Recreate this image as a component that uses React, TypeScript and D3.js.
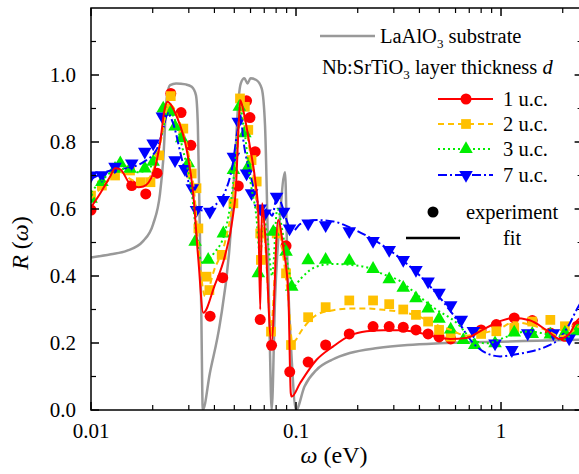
import React, { useRef, useEffect } from 'react';
import * as d3 from 'd3';

type Pt = [number, number];

// LaAlO3 substrate (fit only)
const substrate: Pt[] = [
  [0.01, 0.455], [0.0125, 0.465], [0.0149, 0.475], [0.018, 0.505], [0.0201, 0.555], [0.0217, 0.645],
  [0.0225, 0.745], [0.0234, 0.93], [0.0243, 0.97], [0.026, 0.975], [0.029, 0.972], [0.031, 0.965],
  [0.0325, 0.94], [0.0332, 0.85], [0.0338, 0.6], [0.0345, 0.3], [0.0351, 0.0], [0.038, 0.11],
  [0.0426, 0.26], [0.0476, 0.5], [0.0505, 0.75], [0.0525, 0.93], [0.0538, 0.975], [0.056, 0.99],
  [0.058, 0.975], [0.06, 0.99], [0.064, 0.985], [0.068, 0.96], [0.0706, 0.85], [0.0729, 0.5],
  [0.0754, 0.05], [0.0761, 0.0], [0.079, 0.33], [0.0836, 0.58], [0.0884, 0.71], [0.0907, 0.45],
  [0.0953, 0.15], [0.1, 0.0], [0.11, 0.07], [0.126, 0.12], [0.15, 0.15], [0.183, 0.17], [0.25, 0.185],
  [0.35, 0.194], [0.5, 0.199], [0.7, 0.202], [1, 0.204], [1.5, 0.207], [2.5, 0.21],
];

// fits
const fit1: Pt[] = [
  [0.01, 0.605], [0.0111, 0.647], [0.0124, 0.697], [0.0131, 0.722], [0.0139, 0.718], [0.0155, 0.675],
  [0.017, 0.665], [0.018, 0.667], [0.0201, 0.706], [0.0217, 0.796], [0.0229, 0.9], [0.0236, 0.92],
  [0.0262, 0.876], [0.0293, 0.776], [0.0315, 0.647], [0.0334, 0.448], [0.0353, 0.29], [0.04, 0.37],
  [0.045, 0.46], [0.049, 0.57], [0.051, 0.67], [0.0525, 0.85], [0.0535, 0.925], [0.0555, 0.89],
  [0.0596, 0.786], [0.0632, 0.687], [0.0655, 0.587], [0.0669, 0.3], [0.0683, 0.617], [0.0706, 0.53],
  [0.0759, 0.2], [0.0818, 0.567], [0.0866, 0.487], [0.0917, 0.35], [0.0943, 0.05], [0.0953, 0.04],
  [0.1046, 0.08], [0.126, 0.15], [0.152, 0.19], [0.183, 0.222], [0.221, 0.235], [0.267, 0.238],
  [0.322, 0.238], [0.388, 0.232], [0.468, 0.22], [0.564, 0.212], [0.68, 0.215], [0.79, 0.235],
  [0.99, 0.265], [1.15, 0.275], [1.38, 0.268], [1.67, 0.238], [1.94, 0.212], [2.17, 0.23],
  [2.34, 0.265], [2.5, 0.28],
];

const fit2: Pt[] = [
  [0.01, 0.63], [0.0115, 0.67], [0.013, 0.7], [0.014, 0.71], [0.0155, 0.69], [0.017, 0.68],
  [0.019, 0.69], [0.0205, 0.73], [0.022, 0.81], [0.0235, 0.9], [0.0245, 0.91], [0.027, 0.86],
  [0.03, 0.76], [0.032, 0.64], [0.0335, 0.48], [0.035, 0.37], [0.036, 0.34], [0.04, 0.42],
  [0.045, 0.5], [0.049, 0.62], [0.0515, 0.75], [0.0535, 0.92], [0.0555, 0.88], [0.06, 0.76],
  [0.0635, 0.65], [0.0655, 0.55], [0.0669, 0.38], [0.0683, 0.57], [0.0706, 0.5], [0.0755, 0.25],
  [0.0818, 0.55], [0.0866, 0.46], [0.0917, 0.33], [0.096, 0.2], [0.1, 0.21], [0.1046, 0.23],
  [0.126, 0.284], [0.152, 0.298], [0.183, 0.303], [0.221, 0.303], [0.267, 0.299], [0.322, 0.293],
  [0.388, 0.282], [0.468, 0.258], [0.564, 0.24], [0.68, 0.222], [0.79, 0.228], [0.99, 0.244],
  [1.15, 0.262], [1.38, 0.255], [1.67, 0.238], [1.94, 0.22], [2.17, 0.23], [2.5, 0.26],
];

const fit3: Pt[] = [
  [0.01, 0.65], [0.0115, 0.69], [0.013, 0.715], [0.015, 0.72], [0.017, 0.71], [0.019, 0.72],
  [0.021, 0.76], [0.0225, 0.84], [0.0238, 0.9], [0.0255, 0.87], [0.028, 0.78], [0.031, 0.65],
  [0.033, 0.5], [0.035, 0.44], [0.04, 0.47], [0.045, 0.53], [0.049, 0.66], [0.052, 0.82],
  [0.0535, 0.9], [0.0555, 0.85], [0.06, 0.68], [0.064, 0.58], [0.067, 0.45], [0.069, 0.58],
  [0.073, 0.5], [0.0765, 0.4], [0.081, 0.6], [0.0866, 0.52], [0.092, 0.42], [0.098, 0.37],
  [0.1046, 0.39], [0.126, 0.428], [0.152, 0.436], [0.183, 0.433], [0.221, 0.426], [0.267, 0.405],
  [0.322, 0.385], [0.388, 0.345], [0.47, 0.305], [0.608, 0.26], [0.733, 0.209], [0.852, 0.199],
  [1.07, 0.219], [1.33, 0.234], [1.7, 0.225], [2.0, 0.21], [2.3, 0.24], [2.5, 0.27],
];

const fit7: Pt[] = [
  [0.01, 0.69], [0.012, 0.712], [0.0135, 0.72], [0.015, 0.722], [0.018, 0.74], [0.021, 0.78],
  [0.0225, 0.84], [0.0237, 0.885], [0.025, 0.86], [0.028, 0.74], [0.031, 0.65], [0.033, 0.6],
  [0.036, 0.595], [0.04, 0.61], [0.045, 0.65], [0.049, 0.73], [0.052, 0.84], [0.0535, 0.88],
  [0.0555, 0.8], [0.06, 0.7], [0.065, 0.62], [0.0685, 0.58], [0.072, 0.6], [0.0765, 0.58],
  [0.081, 0.64], [0.0866, 0.6], [0.092, 0.55], [0.097, 0.535], [0.1046, 0.555], [0.126, 0.567],
  [0.152, 0.563], [0.183, 0.545], [0.221, 0.52], [0.267, 0.49], [0.322, 0.453], [0.388, 0.41],
  [0.468, 0.358], [0.608, 0.27], [0.733, 0.199], [0.852, 0.169], [0.99, 0.16], [1.15, 0.165],
  [1.38, 0.174], [1.67, 0.19], [1.94, 0.215], [2.17, 0.26], [2.34, 0.3], [2.5, 0.33],
];

// experiments
const exp1: Pt[] = [
  [0.01, 0.597], [0.0158, 0.67], [0.0185, 0.645], [0.021, 0.707], [0.0245, 0.945], [0.0275, 0.888],
  [0.0307, 0.79], [0.0381, 0.28], [0.0439, 0.395], [0.0523, 0.669], [0.0574, 0.923], [0.0596, 0.873],
  [0.0632, 0.771], [0.0669, 0.27], [0.076, 0.193], [0.0894, 0.49], [0.0932, 0.114], [0.1146, 0.143],
  [0.1395, 0.194], [0.1819, 0.227], [0.2376, 0.249], [0.2848, 0.249], [0.3335, 0.247], [0.3847, 0.239],
  [0.4408, 0.227], [0.4986, 0.218], [0.5683, 0.212], [0.7995, 0.239], [0.9487, 0.255], [1.16, 0.275],
  [1.42, 0.267], [1.74, 0.23], [2.05, 0.22], [2.35, 0.25],
];

const exp2: Pt[] = [
  [0.01, 0.64], [0.0113, 0.67], [0.0131, 0.7], [0.0155, 0.715], [0.0175, 0.68], [0.0195, 0.68],
  [0.0215, 0.76], [0.0235, 0.9], [0.0245, 0.937], [0.0282, 0.84], [0.031, 0.706], [0.0327, 0.662],
  [0.0334, 0.542], [0.0366, 0.398], [0.0378, 0.358], [0.0434, 0.463], [0.0495, 0.617], [0.0533, 0.93],
  [0.0563, 0.905], [0.0585, 0.836], [0.0607, 0.746], [0.0643, 0.682], [0.0669, 0.527], [0.0674, 0.448],
  [0.0755, 0.234], [0.0805, 0.527], [0.0894, 0.408], [0.0945, 0.194], [0.1146, 0.277], [0.1395, 0.307],
  [0.1819, 0.327], [0.2376, 0.327], [0.2848, 0.316], [0.3335, 0.3], [0.3847, 0.284], [0.4408, 0.264],
  [0.4986, 0.239], [0.5683, 0.219], [0.7995, 0.227], [0.9487, 0.235], [1.16, 0.245], [1.42, 0.264],
  [1.74, 0.269], [2.05, 0.25], [2.35, 0.24],
];

const exp3: Pt[] = [
  [0.01, 0.63], [0.0113, 0.68], [0.0131, 0.72], [0.0139, 0.736], [0.0155, 0.72], [0.0183, 0.721],
  [0.0201, 0.741], [0.0225, 0.9], [0.0245, 0.89], [0.0257, 0.846], [0.0277, 0.811], [0.0298, 0.736],
  [0.0322, 0.502], [0.0373, 0.448], [0.0442, 0.527], [0.0495, 0.716], [0.0529, 0.905], [0.0563, 0.826],
  [0.0585, 0.726], [0.0655, 0.408], [0.0775, 0.532], [0.0894, 0.472], [0.0953, 0.368], [0.1146, 0.447],
  [0.1395, 0.448], [0.1819, 0.445], [0.2376, 0.421], [0.2848, 0.39], [0.3335, 0.365], [0.3847, 0.333],
  [0.4408, 0.303], [0.4986, 0.272], [0.5683, 0.24], [0.655, 0.209], [0.744, 0.194], [0.935, 0.199],
  [1.16, 0.231], [1.42, 0.227], [1.74, 0.225], [2.05, 0.23], [2.35, 0.235],
];

const exp7: Pt[] = [
  [0.01, 0.7], [0.0113, 0.701], [0.0131, 0.726], [0.0158, 0.736], [0.0183, 0.771], [0.0201, 0.796],
  [0.0223, 0.876], [0.0257, 0.746], [0.0287, 0.72], [0.0312, 0.662], [0.0327, 0.597], [0.038, 0.592],
  [0.0442, 0.627], [0.0495, 0.756], [0.0523, 0.861], [0.0574, 0.706], [0.0607, 0.647], [0.0669, 0.602],
  [0.0706, 0.587], [0.0804, 0.637], [0.087, 0.592], [0.093, 0.542], [0.1146, 0.557], [0.1395, 0.552],
  [0.1819, 0.534], [0.2376, 0.505], [0.2848, 0.478], [0.3335, 0.448], [0.3847, 0.418], [0.4408, 0.384],
  [0.4986, 0.35], [0.5683, 0.313], [0.64, 0.27], [0.733, 0.236], [0.935, 0.199], [1.13, 0.179],
  [1.35, 0.229], [1.8, 0.229], [2.15, 0.214],
];

const seriesNames = ['1 u.c.', '2 u.c.', '3 u.c.', '7 u.c.'];
const xTickValues = [0.01, 0.1, 1];
const xTickLabels = ['0.01', '0.1', '1'];
const yTickValues = [0, 0.2, 0.4, 0.6, 0.8, 1.0];
const yTickLabels = ['0.0', '0.2', '0.4', '0.6', '0.8', '1.0'];

const W = 579;
const H = 474;
const SERIF = "'Liberation Serif', Tinos, 'Times New Roman', serif";

const series = [
  { name: seriesNames[0], fit: fit1, exp: exp1, color: '#ff0000', dash: '', symbol: d3.symbolCircle, size: 95, rot: 0 },
  { name: seriesNames[1], fit: fit2, exp: exp2, color: '#ffc000', dash: '6 4', symbol: d3.symbolSquare, size: 95, rot: 0 },
  { name: seriesNames[2], fit: fit3, exp: exp3, color: '#00ee00', dash: '2 3', symbol: d3.symbolTriangle, size: 80, rot: 0 },
  { name: seriesNames[3], fit: fit7, exp: exp7, color: '#0000ff', dash: '9 3 2 3', symbol: d3.symbolTriangle, size: 80, rot: 180 },
];

export default function App() {
  const svgRef = useRef<SVGSVGElement>(null);

  useEffect(() => {
    // force the serif face on every label
    d3.select(svgRef.current).selectAll('text')
      .each(function () {
        (this as SVGTextElement).style.setProperty('font-family', SERIF, 'important');
      });
  }, []);

  const x = d3.scaleLog().domain([0.01, 2.5]).range([91, 582.6]);
  const y = d3.scaleLinear().domain([0, 1.2]).range([410, 8]);
  const [x0, x1] = x.range();
  const [y0, y1] = y.range();

  const line = d3.line<Pt>()
    .x(d => x(d[0]))
    .y(d => y(d[1]))
    .curve(d3.curveMonotoneX);

  // minor x ticks: 2..9 per decade
  const xMinor: number[] = [];
  [0.01, 0.1, 1].forEach(dec => {
    for (let k = 2; k <= 9; k++) {
      const v = dec * k;
      if (v <= 2.5) xMinor.push(v);
    }
  });
  const yMinor = d3.range(1, 12, 2).map(i => i / 10);

  const legendRows = [99, 124, 149, 175];

  return (
    <svg ref={svgRef} width={W} height={H} fontFamily={SERIF}
      style={{ position: 'absolute', left: 0, top: 0 }}>
      <defs>
        <clipPath id="plot">
          <rect x={x0} y={y1} width={x1 - x0} height={y0 - y1} />
        </clipPath>
      </defs>

      <g clipPath="url(#plot)">
        <path d={line(substrate) || ''} fill="none" stroke="#999999" strokeWidth={2.5} />
        {series.map(s => (
          <g key={'m' + s.name}>
            {s.exp.map((d, i) => (
              <path key={i}
                d={d3.symbol().type(s.symbol).size(s.size)() || ''}
                transform={`translate(${x(d[0])},${y(d[1])}) rotate(${s.rot})`}
                fill={s.color} />
            ))}
          </g>
        ))}
        {series.slice().reverse().map(s => (
          <path key={'f' + s.name} d={line(s.fit) || ''} fill="none" stroke={s.color}
            strokeWidth={2} strokeDasharray={s.dash || undefined} />
        ))}
      </g>

      {/* frame */}
      <rect x={x0} y={y1} width={x1 - x0} height={y0 - y1} fill="none" stroke="#000" strokeWidth={1.5} />

      {/* x ticks */}
      {xTickValues.map(v => (
        <g key={'xt' + v}>
          <line x1={x(v)} x2={x(v)} y1={y0} y2={y0 - 8} stroke="#000" strokeWidth={1.5} />
          <line x1={x(v)} x2={x(v)} y1={y1} y2={y1 + 8} stroke="#000" strokeWidth={1.5} />
        </g>
      ))}
      {xMinor.map(v => (
        <g key={'xm' + v}>
          <line x1={x(v)} x2={x(v)} y1={y0} y2={y0 - 5} stroke="#000" strokeWidth={1.2} />
          <line x1={x(v)} x2={x(v)} y1={y1} y2={y1 + 5} stroke="#000" strokeWidth={1.2} />
        </g>
      ))}

      {/* y ticks */}
      {yTickValues.map(v => (
        <g key={'yt' + v}>
          <line x1={x0} x2={x0 + 8} y1={y(v)} y2={y(v)} stroke="#000" strokeWidth={1.5} />
          <line x1={x1} x2={x1 - 8} y1={y(v)} y2={y(v)} stroke="#000" strokeWidth={1.5} />
        </g>
      ))}
      {yMinor.map(v => (
        <g key={'ym' + v}>
          <line x1={x0} x2={x0 + 5} y1={y(v)} y2={y(v)} stroke="#000" strokeWidth={1.2} />
          <line x1={x1} x2={x1 - 5} y1={y(v)} y2={y(v)} stroke="#000" strokeWidth={1.2} />
        </g>
      ))}

      {xTickValues.map((v, i) => (
        <text key={'xl' + v} x={x(v)} y={438} textAnchor="middle" fontSize={21}>{xTickLabels[i]}</text>
      ))}
      {yTickValues.map((v, i) => (
        <text key={'yl' + v} x={76} y={y(v) + 7} textAnchor="end" fontSize={21}>{yTickLabels[i]}</text>
      ))}

      {/* axis titles */}
      <text x={334} y={463} textAnchor="middle" fontSize={24}>
        <tspan fontStyle="italic">ω</tspan> (eV)
      </text>
      <text transform="translate(28,243) rotate(-90)" textAnchor="middle" fontSize={24}>
        <tspan fontStyle="italic">R</tspan> (<tspan fontStyle="italic">ω</tspan>)
      </text>

      {/* legend */}
      <line x1={320} x2={375} y1={36} y2={36} stroke="#999999" strokeWidth={2.5} />
      <text x={380} y={43} fontSize={20.5}>
        LaAlO<tspan fontSize={13} dy={5}>3</tspan><tspan dy={-5}> substrate</tspan>
      </text>
      <text x={322} y={74} fontSize={20.5}>
        Nb:SrTiO<tspan fontSize={13} dy={5}>3</tspan><tspan dy={-5}> layer thickness </tspan>
        <tspan fontStyle="italic">d</tspan>
      </text>
      {series.map((s, i) => (
        <g key={'lg' + s.name}>
          <line x1={438} x2={493} y1={legendRows[i]} y2={legendRows[i]} stroke={s.color}
            strokeWidth={2} strokeDasharray={s.dash || undefined} />
          <path d={d3.symbol().type(s.symbol).size(s.size)() || ''}
            transform={`translate(466,${legendRows[i]}) rotate(${s.rot})`} fill={s.color} />
          <text x={503} y={legendRows[i] + 7} fontSize={20.5}>{s.name}</text>
        </g>
      ))}
      <circle cx={433} cy={212} r={5.5} fill="#000" />
      <text x={466} y={219} fontSize={20.5}>experiment</text>
      <line x1={406} x2={460} y1={238} y2={238} stroke="#000" strokeWidth={2.5} />
      <text x={512} y={245} textAnchor="middle" fontSize={20.5}>fit</text>
    </svg>
  );
}
